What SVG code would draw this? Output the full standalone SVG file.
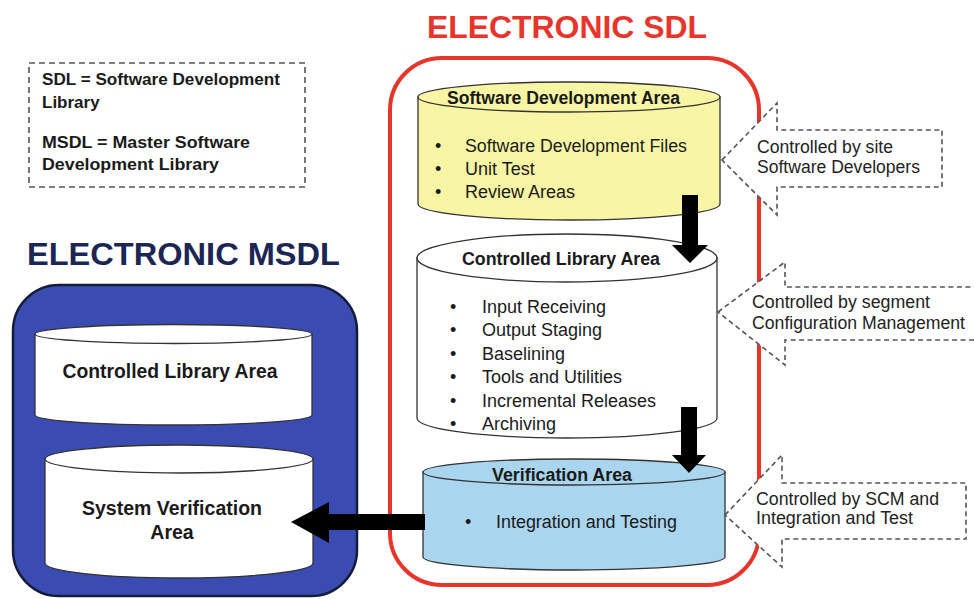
<svg xmlns="http://www.w3.org/2000/svg" width="974" height="599" viewBox="0 0 974 599">
<defs>
<style>
text{font-family:"Liberation Sans",Arial,sans-serif;fill:#1a1a1a}
.b{font-weight:bold}
.leg{font-size:17px;font-weight:bold}
.ttl{font-size:17.5px;font-weight:bold}
.bul{font-size:18px}
.cal{font-size:17.5px;fill:#222}
.big{font-size:19.5px;font-weight:bold}
.cyl{stroke:#333;stroke-width:1.3}
.call{fill:#fff;stroke:#555;stroke-width:1.6;stroke-dasharray:5,3.5}
.arr{fill:#000}
.mid{text-anchor:middle}
</style>
</defs>
<rect width="974" height="599" fill="#fff"/>

<g id="legend">
<rect x="29" y="63" width="276" height="124" fill="#fff" stroke="#555" stroke-width="1.6" stroke-dasharray="6,4"/>
<text class="leg" x="42" y="85" textLength="238" lengthAdjust="spacingAndGlyphs">SDL = Software Development</text>
<text class="leg" x="42" y="108">Library</text>
<text class="leg" x="42" y="148" textLength="208" lengthAdjust="spacingAndGlyphs">MSDL = Master Software</text>
<text class="leg" x="42" y="170" textLength="177" lengthAdjust="spacingAndGlyphs">Development Library</text>
</g>

<g id="title-sdl">
<text class="b" x="427" y="38" font-size="32" textLength="280" lengthAdjust="spacingAndGlyphs" style="fill:#e8352b">ELECTRONIC SDL</text>
</g>
<g id="title-msdl">
<text class="b" x="27" y="265" font-size="32" textLength="313" lengthAdjust="spacingAndGlyphs" style="fill:#1c2654">ELECTRONIC MSDL</text>
</g>

<g id="msdl">
<rect x="13" y="285" width="344" height="311" rx="46" fill="#3a4cb2" stroke="#141c3c" stroke-width="2.5"/>
</g>

<g id="sdl">
<rect x="390" y="58" width="369" height="527" rx="52" fill="#fff" stroke="#e8352b" stroke-width="4"/>
</g>

<g id="msdl-controlled">
<path class="cyl" d="M35,334 L35,415 A138.5,10 0 0 0 312,415 L312,334 Z" fill="#fff"/>
<ellipse class="cyl" cx="173.5" cy="334" rx="138.5" ry="9.5" fill="#fff"/>
<text class="big mid" x="170" y="378" textLength="215" lengthAdjust="spacingAndGlyphs">Controlled Library Area</text>
</g>

<g id="msdl-verification">
<path class="cyl" d="M45,459 L45,563 A134,15 0 0 0 313,563 L313,459 Z" fill="#fff"/>
<ellipse class="cyl" cx="179" cy="459" rx="134" ry="14" fill="#fff"/>
<text class="big mid" x="172" y="515" textLength="180" lengthAdjust="spacingAndGlyphs">System Verification</text>
<text class="big mid" x="172" y="539">Area</text>
</g>

<g id="sw-dev">
<path class="cyl" d="M418,97 L418,204 A151,16 0 0 0 720,204 L720,97 Z" fill="#f8f6a4"/>
<ellipse class="cyl" cx="569" cy="97" rx="151" ry="15" fill="#f8f6a4"/>
<text class="ttl" x="447" y="104" textLength="233" lengthAdjust="spacingAndGlyphs">Software Development Area</text>
<text class="bul" x="435" y="152">•</text>
<text class="bul" x="465" y="152" textLength="222" lengthAdjust="spacingAndGlyphs">Software Development Files</text>
<text class="bul" x="435" y="175">•</text>
<text class="bul" x="465" y="175">Unit Test</text>
<text class="bul" x="435" y="198">•</text>
<text class="bul" x="465" y="198">Review Areas</text>
</g>

<g id="controlled-library">
<path class="cyl" d="M417,258 L417,418 A150,20 0 0 0 717,418 L717,258 Z" fill="#fff"/>
<ellipse class="cyl" cx="567" cy="258" rx="150" ry="24" fill="#fff"/>
<text class="ttl" x="462" y="265" textLength="198" lengthAdjust="spacingAndGlyphs">Controlled Library Area</text>
<text class="bul" x="450" y="313">•</text>
<text class="bul" x="482" y="313">Input Receiving</text>
<text class="bul" x="450" y="336">•</text>
<text class="bul" x="482" y="336">Output Staging</text>
<text class="bul" x="450" y="360">•</text>
<text class="bul" x="482" y="360">Baselining</text>
<text class="bul" x="450" y="383">•</text>
<text class="bul" x="482" y="383">Tools and Utilities</text>
<text class="bul" x="450" y="407">•</text>
<text class="bul" x="482" y="407">Incremental Releases</text>
<text class="bul" x="450" y="430">•</text>
<text class="bul" x="482" y="430">Archiving</text>
</g>

<g id="verification">
<path class="cyl" d="M423,472 L423,557 A151,13 0 0 0 725,557 L725,472 Z" fill="#a9d5ef"/>
<ellipse class="cyl" cx="574" cy="472" rx="151" ry="13" fill="#a9d5ef"/>
<text class="ttl" x="492" y="481" textLength="140" lengthAdjust="spacingAndGlyphs">Verification Area</text>
<text class="bul" x="465" y="528">•</text>
<text class="bul" x="496" y="528" textLength="181" lengthAdjust="spacingAndGlyphs">Integration and Testing</text>
</g>

<g id="connectors">
<polygon class="arr" points="682,195 698,195 698,245 708,245 690,263 672,245 682,245"/>
<polygon class="arr" points="681,407 697,407 697,455 706,455 689,473 672,455 681,455"/>
<polygon class="arr" points="425,514 425,530 329,530 329,543 291,522 329,502 329,514"/>
</g>

<g id="callout-site">
<polygon class="call" points="722,160 777,103 777,130 942,130 942,187 777,187 777,215"/>
<text class="cal" x="757" y="153" textLength="136" lengthAdjust="spacingAndGlyphs">Controlled by site</text>
<text class="cal" x="757" y="173" textLength="163" lengthAdjust="spacingAndGlyphs">Software Developers</text>
</g>
<g id="callout-segment">
<polygon class="call" points="718,312 785,262 785,287 990,287 990,340 785,340 785,365"/>
<text class="cal" x="752" y="308" textLength="178" lengthAdjust="spacingAndGlyphs">Controlled by segment</text>
<text class="cal" x="752" y="329" textLength="213" lengthAdjust="spacingAndGlyphs">Configuration Management</text>
</g>
<g id="callout-scm">
<polygon class="call" points="725,515 782,455 782,483 966,483 966,539 782,539 782,567"/>
<text class="cal" x="756" y="505" textLength="183" lengthAdjust="spacingAndGlyphs">Controlled by SCM and</text>
<text class="cal" x="756" y="524" textLength="157" lengthAdjust="spacingAndGlyphs">Integration and Test</text>
</g>
</svg>
